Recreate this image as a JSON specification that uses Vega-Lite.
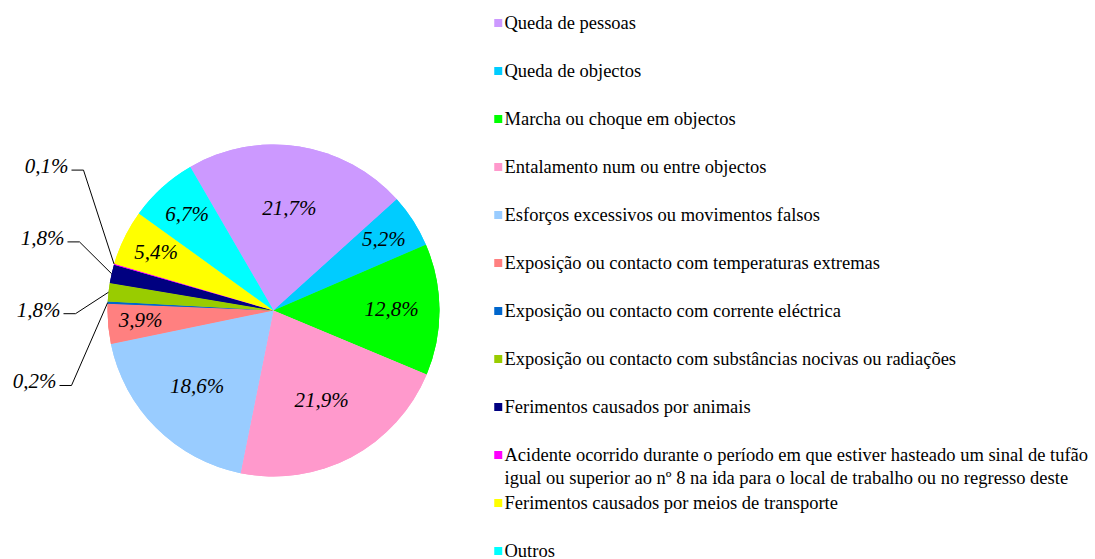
{
  "$schema": "https://vega.github.io/schema/vega-lite/v6.json",
  "width": 547,
  "height": 497,
  "autosize": {"type": "none"},
  "padding": {"left": 0, "top": 62, "right": 548, "bottom": 0},
  "background": "#ffffff",
  "config": {
    "view": {"stroke": null},
    "legend": {
      "orient": "none",
      "padding": 0,
      "symbolType": "square",
      "symbolSize": 64,
      "symbolStrokeWidth": 0,
      "labelFont": "Liberation Serif",
      "labelFontSize": 18.5,
      "labelColor": "#000000",
      "labelLimit": 800,
      "labelOffset": -3,
      "clipHeight": 48,
      "rowPadding": 0
    },
    "style": {"guide-label": {"lineHeight": 23.3}}
  },
  "resolve": {"scale": {"color": "independent"}, "legend": {"color": "independent"}},
  "data": {
    "values": [
      {"idx": 1, "cause": "Queda de pessoas", "value": 21.7},
      {"idx": 2, "cause": "Queda de objectos", "value": 5.2},
      {"idx": 3, "cause": "Marcha ou choque em objectos", "value": 12.8},
      {"idx": 4, "cause": "Entalamento num ou entre objectos", "value": 21.9},
      {"idx": 5, "cause": "Esforços excessivos ou movimentos falsos", "value": 18.6},
      {"idx": 6, "cause": "Exposição ou contacto com temperaturas extremas", "value": 3.9},
      {"idx": 7, "cause": "Exposição ou contacto com corrente eléctrica", "value": 0.2},
      {"idx": 8, "cause": "Exposição ou contacto com substâncias nocivas ou radiações", "value": 1.8},
      {"idx": 9, "cause": "Ferimentos causados por animais", "value": 1.8},
      {"idx": 10, "cause": "Acidente ocorrido durante o período em que estiver hasteado um sinal de tufão igual ou superior ao nº 8 na ida para o local de trabalho ou no regresso deste", "value": 0.1},
      {"idx": 11, "cause": "Ferimentos causados por meios de transporte", "value": 5.4},
      {"idx": 12, "cause": "Outros", "value": 6.7}
    ]
  },
  "layer": [
    {
      "mark": {"type": "arc", "outerRadius": 166},
      "encoding": {
        "theta": {"field": "value", "type": "quantitative", "stack": true, "scale": {"range": [-0.5253, 5.7579]}},
        "order": {"field": "idx", "type": "quantitative"},
        "color": {
          "field": "cause",
          "type": "nominal",
          "scale": {
            "domain": [
              "Queda de pessoas",
              "Queda de objectos",
              "Marcha ou choque em objectos",
              "Entalamento num ou entre objectos",
              "Esforços excessivos ou movimentos falsos",
              "Exposição ou contacto com temperaturas extremas",
              "Exposição ou contacto com corrente eléctrica",
              "Exposição ou contacto com substâncias nocivas ou radiações",
              "Ferimentos causados por animais",
              "Acidente ocorrido durante o período em que estiver hasteado um sinal de tufão igual ou superior ao nº 8 na ida para o local de trabalho ou no regresso deste",
              "Ferimentos causados por meios de transporte",
              "Outros"
            ],
            "range": ["#CC99FF", "#00CCFF", "#00FF00", "#FF99CC", "#99CCFF", "#FF8080", "#0066CC", "#99CC00", "#000080", "#FF00FF", "#FFFF00", "#00FFFF"]
          },
          "legend": {
            "legendX": 489,
            "legendY": -63,
            "title": null,
            "values": [
              "Queda de pessoas",
              "Queda de objectos",
              "Marcha ou choque em objectos",
              "Entalamento num ou entre objectos",
              "Esforços excessivos ou movimentos falsos",
              "Exposição ou contacto com temperaturas extremas",
              "Exposição ou contacto com corrente eléctrica",
              "Exposição ou contacto com substâncias nocivas ou radiações",
              "Ferimentos causados por animais",
              "Acidente ocorrido durante o período em que estiver hasteado um sinal de tufão igual ou superior ao nº 8 na ida para o local de trabalho ou no regresso deste"
            ],
            "labelExpr": "length(datum.label) > 80 ? ['Acidente ocorrido durante o período em que estiver hasteado um sinal de tufão', 'igual ou superior ao nº 8 na ida para o local de trabalho ou no regresso deste'] : datum.label"
          }
        }
      }
    },
    {
      "mark": {"type": "arc", "outerRadius": 166},
      "encoding": {
        "theta": {"field": "value", "type": "quantitative", "stack": true},
        "order": {"field": "idx", "type": "quantitative"},
        "color": {
          "field": "cause",
          "type": "nominal",
          "scale": {
            "domain": [
              "Queda de pessoas",
              "Queda de objectos",
              "Marcha ou choque em objectos",
              "Entalamento num ou entre objectos",
              "Esforços excessivos ou movimentos falsos",
              "Exposição ou contacto com temperaturas extremas",
              "Exposição ou contacto com corrente eléctrica",
              "Exposição ou contacto com substâncias nocivas ou radiações",
              "Ferimentos causados por animais",
              "Acidente ocorrido durante o período em que estiver hasteado um sinal de tufão igual ou superior ao nº 8 na ida para o local de trabalho ou no regresso deste",
              "Ferimentos causados por meios de transporte",
              "Outros"
            ],
            "range": ["#CC99FF", "#00CCFF", "#00FF00", "#FF99CC", "#99CCFF", "#FF8080", "#0066CC", "#99CC00", "#000080", "#FF00FF", "#FFFF00", "#00FFFF"]
          },
          "legend": {
            "legendX": 489,
            "legendY": 417,
            "title": null,
            "values": ["Ferimentos causados por meios de transporte", "Outros"]
          }
        }
      }
    },
    {
      "transform": [
        {"calculate": "datum.value >= 3 ? replace(format(datum.value, '.1f'), '.', ',') + '%' : ''", "as": "lbl"}
      ],
      "mark": {"type": "text", "font": "Liberation Serif", "fontStyle": "italic", "fontSize": 21, "color": "#000000", "align": "center", "baseline": "middle"},
      "encoding": {
        "theta": {"field": "value", "type": "quantitative", "stack": true},
        "order": {"field": "idx", "type": "quantitative"},
        "radius": {"field": "value", "type": "quantitative", "scale": {"type": "linear", "domain": [0, 20], "range": [140, 106], "zero": false, "nice": false}},
        "text": {"field": "lbl"}
      }
    },
    {
      "transform": [
        {"window": [{"op": "sum", "field": "value", "as": "cum"}], "sort": [{"field": "idx"}], "frame": [null, 0]},
        {"joinaggregate": [{"op": "sum", "field": "value", "as": "total"}]},
        {"calculate": "-0.5253 + 2 * PI * (datum.cum - datum.value / 2) / datum.total", "as": "ang"},
        {"filter": "datum.value < 3"},
        {"window": [{"op": "row_number", "as": "k"}], "sort": [{"field": "idx", "order": "descending"}]},
        {"calculate": "sin(datum.ang)", "as": "ex"},
        {"calculate": "cos(datum.ang)", "as": "ey"},
        {"calculate": "(-190 - 4 * (datum.k - 1)) / 166", "as": "ax"},
        {"calculate": "(140.4 - 71.8 * (datum.k - 1)) / 166", "as": "ay"},
        {"calculate": "datum.ax - 12 / 166", "as": "ax0"},
        {"calculate": "replace(format(datum.value, '.1f'), '.', ',') + '%'", "as": "lbl"}
      ],
      "layer": [
        {
          "mark": {"type": "rule", "color": "#000000", "strokeWidth": 1},
          "encoding": {
            "x": {"field": "ax0", "type": "quantitative", "axis": null, "scale": {"domain": [-1.64759, 1.64759], "nice": false, "zero": false}},
            "x2": {"field": "ax"},
            "y": {"field": "ay", "type": "quantitative", "axis": null, "scale": {"domain": [-1.49699, 1.49699], "nice": false, "zero": false}},
            "y2": {"field": "ay"}
          }
        },
        {
          "mark": {"type": "rule", "color": "#000000", "strokeWidth": 1},
          "encoding": {
            "x": {"field": "ax", "type": "quantitative"},
            "x2": {"field": "ex"},
            "y": {"field": "ay", "type": "quantitative"},
            "y2": {"field": "ey"}
          }
        },
        {
          "mark": {"type": "text", "font": "Liberation Serif", "fontStyle": "italic", "fontSize": 21, "color": "#000000", "align": "right", "baseline": "alphabetic", "dx": -3, "dy": 3},
          "encoding": {
            "x": {"field": "ax0", "type": "quantitative"},
            "y": {"field": "ay", "type": "quantitative"},
            "text": {"field": "lbl"}
          }
        }
      ]
    }
  ]
}
